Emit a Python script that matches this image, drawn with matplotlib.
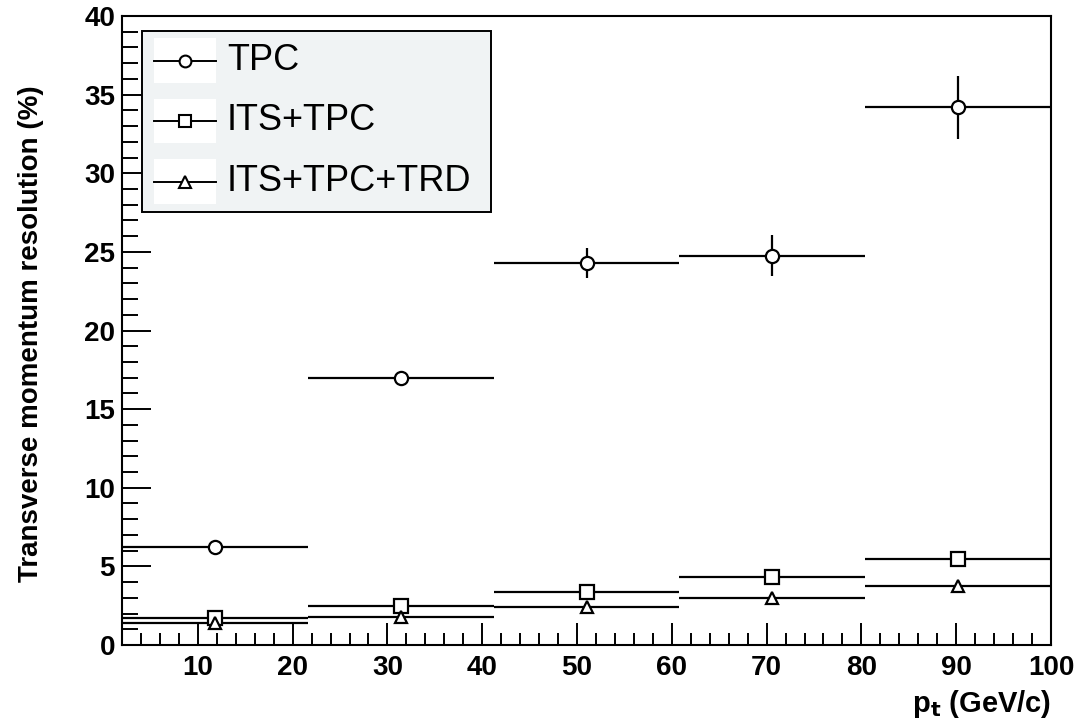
import matplotlib
matplotlib.use("Agg")
import matplotlib.pyplot as plt
import numpy as np
from matplotlib.patches import Rectangle
from matplotlib.lines import Line2D
from matplotlib.ticker import MultipleLocator

plt.rcParams['font.family'] = ['Liberation Sans', 'DejaVu Sans']

# ---- data ----
bin_edges = [2.0, 21.6, 41.2, 60.8, 80.4, 100.0]
tpc = [6.25, 17.0, 24.3, 24.75, 34.2]
tpc_err = [0.3, 0.35, 0.95, 1.3, 2.0]
its_tpc = [1.7, 2.5, 3.4, 4.3, 5.5]
its_tpc_err = [0.1, 0.15, 0.15, 0.2, 0.3]
its_tpc_trd = [1.4, 1.8, 2.4, 3.0, 3.75]
its_tpc_trd_err = [0.2, 0.3, 0.3, 0.3, 0.3]
labels = ["TPC", "ITS+TPC", "ITS+TPC+TRD"]
markers = ["o", "s", "^"]

W, H = 1092, 721
fig = plt.figure(figsize=(W / 100, H / 100), dpi=100)
L, R, T, B = 122, 1051, 16, 645
ax = fig.add_axes([L / W, 1 - B / H, (R - L) / W, (B - T) / H])

edges = np.array(bin_edges)
centers = 0.5 * (edges[:-1] + edges[1:])
halfw = 0.5 * (edges[1:] - edges[:-1])

series = [(tpc, tpc_err), (its_tpc, its_tpc_err), (its_tpc_trd, its_tpc_trd_err)]
for (vals, errs), mk in zip(series, markers):
    ax.errorbar(centers, vals, xerr=halfw, yerr=errs, fmt=mk, ms=9.5 if mk != "^" else 9,
                mfc="white", mec="black", mew=1.6, ecolor="black", elinewidth=1.6,
                capsize=0, zorder=3)

ax.set_xlim(2, 100)
ax.set_ylim(0, 40)
ax.xaxis.set_major_locator(MultipleLocator(10))
ax.xaxis.set_minor_locator(MultipleLocator(2))
ax.yaxis.set_major_locator(MultipleLocator(5))
ax.yaxis.set_minor_locator(MultipleLocator(1))
ax.tick_params(axis="x", which="major", direction="in", length=16, width=1.4,
               labelsize=20, pad=7)
ax.tick_params(axis="x", which="minor", direction="in", length=8.6, width=1.4)
ax.tick_params(axis="y", which="major", direction="in", length=21, width=1.4,
               labelsize=20, pad=5)
ax.tick_params(axis="y", which="minor", direction="in", length=11.5, width=1.4)
for lab in ax.get_xticklabels() + ax.get_yticklabels():
    lab.set_fontweight("bold")
for s in ax.spines.values():
    s.set_linewidth(1.5)

fig.text(31 / W, 1 - 334 / H, "Transverse momentum resolution (%)", rotation=90,
         ha="center", va="center", fontsize=20, fontweight="bold")
fig.text(1051 / W, 1 - 704 / H, r"p$_\mathbf{t}$ (GeV/c)", ha="right", va="center",
         fontsize=21, fontweight="bold")

# ---- legend (ROOT style) ----
def fx(px):
    return px / W

def fy(py):
    return 1 - py / H

fig.patches.append(Rectangle((fx(142), fy(212)), fx(491) - fx(142), fy(31) - fy(212),
                             transform=fig.transFigure, facecolor="#f0f3f4",
                             edgecolor="black", linewidth=1.4, zorder=5))
rows = [(38, 83), (99, 143), (159, 204)]
for (t, b), lab, mk in zip(rows, labels, markers):
    fig.patches.append(Rectangle((fx(154), fy(b)), fx(216) - fx(154), fy(t) - fy(b),
                                 transform=fig.transFigure, facecolor="white",
                                 edgecolor="none", zorder=6))
    yc = fy((t + b) / 2)
    fig.lines.append(Line2D([fx(154), fx(216)], [yc, yc], transform=fig.transFigure,
                            color="black", lw=1.4, zorder=7))
    fig.lines.append(Line2D([fx(185)], [yc], transform=fig.transFigure, marker=mk,
                            ms=8.5 if mk != "^" else 8, mfc="white", mec="black",
                            mew=1.5, color="black", zorder=8))
    fig.text(fx(227), yc, lab, ha="left", va="center", fontsize=26, zorder=8)

fig.savefig("out.png", dpi=100)
